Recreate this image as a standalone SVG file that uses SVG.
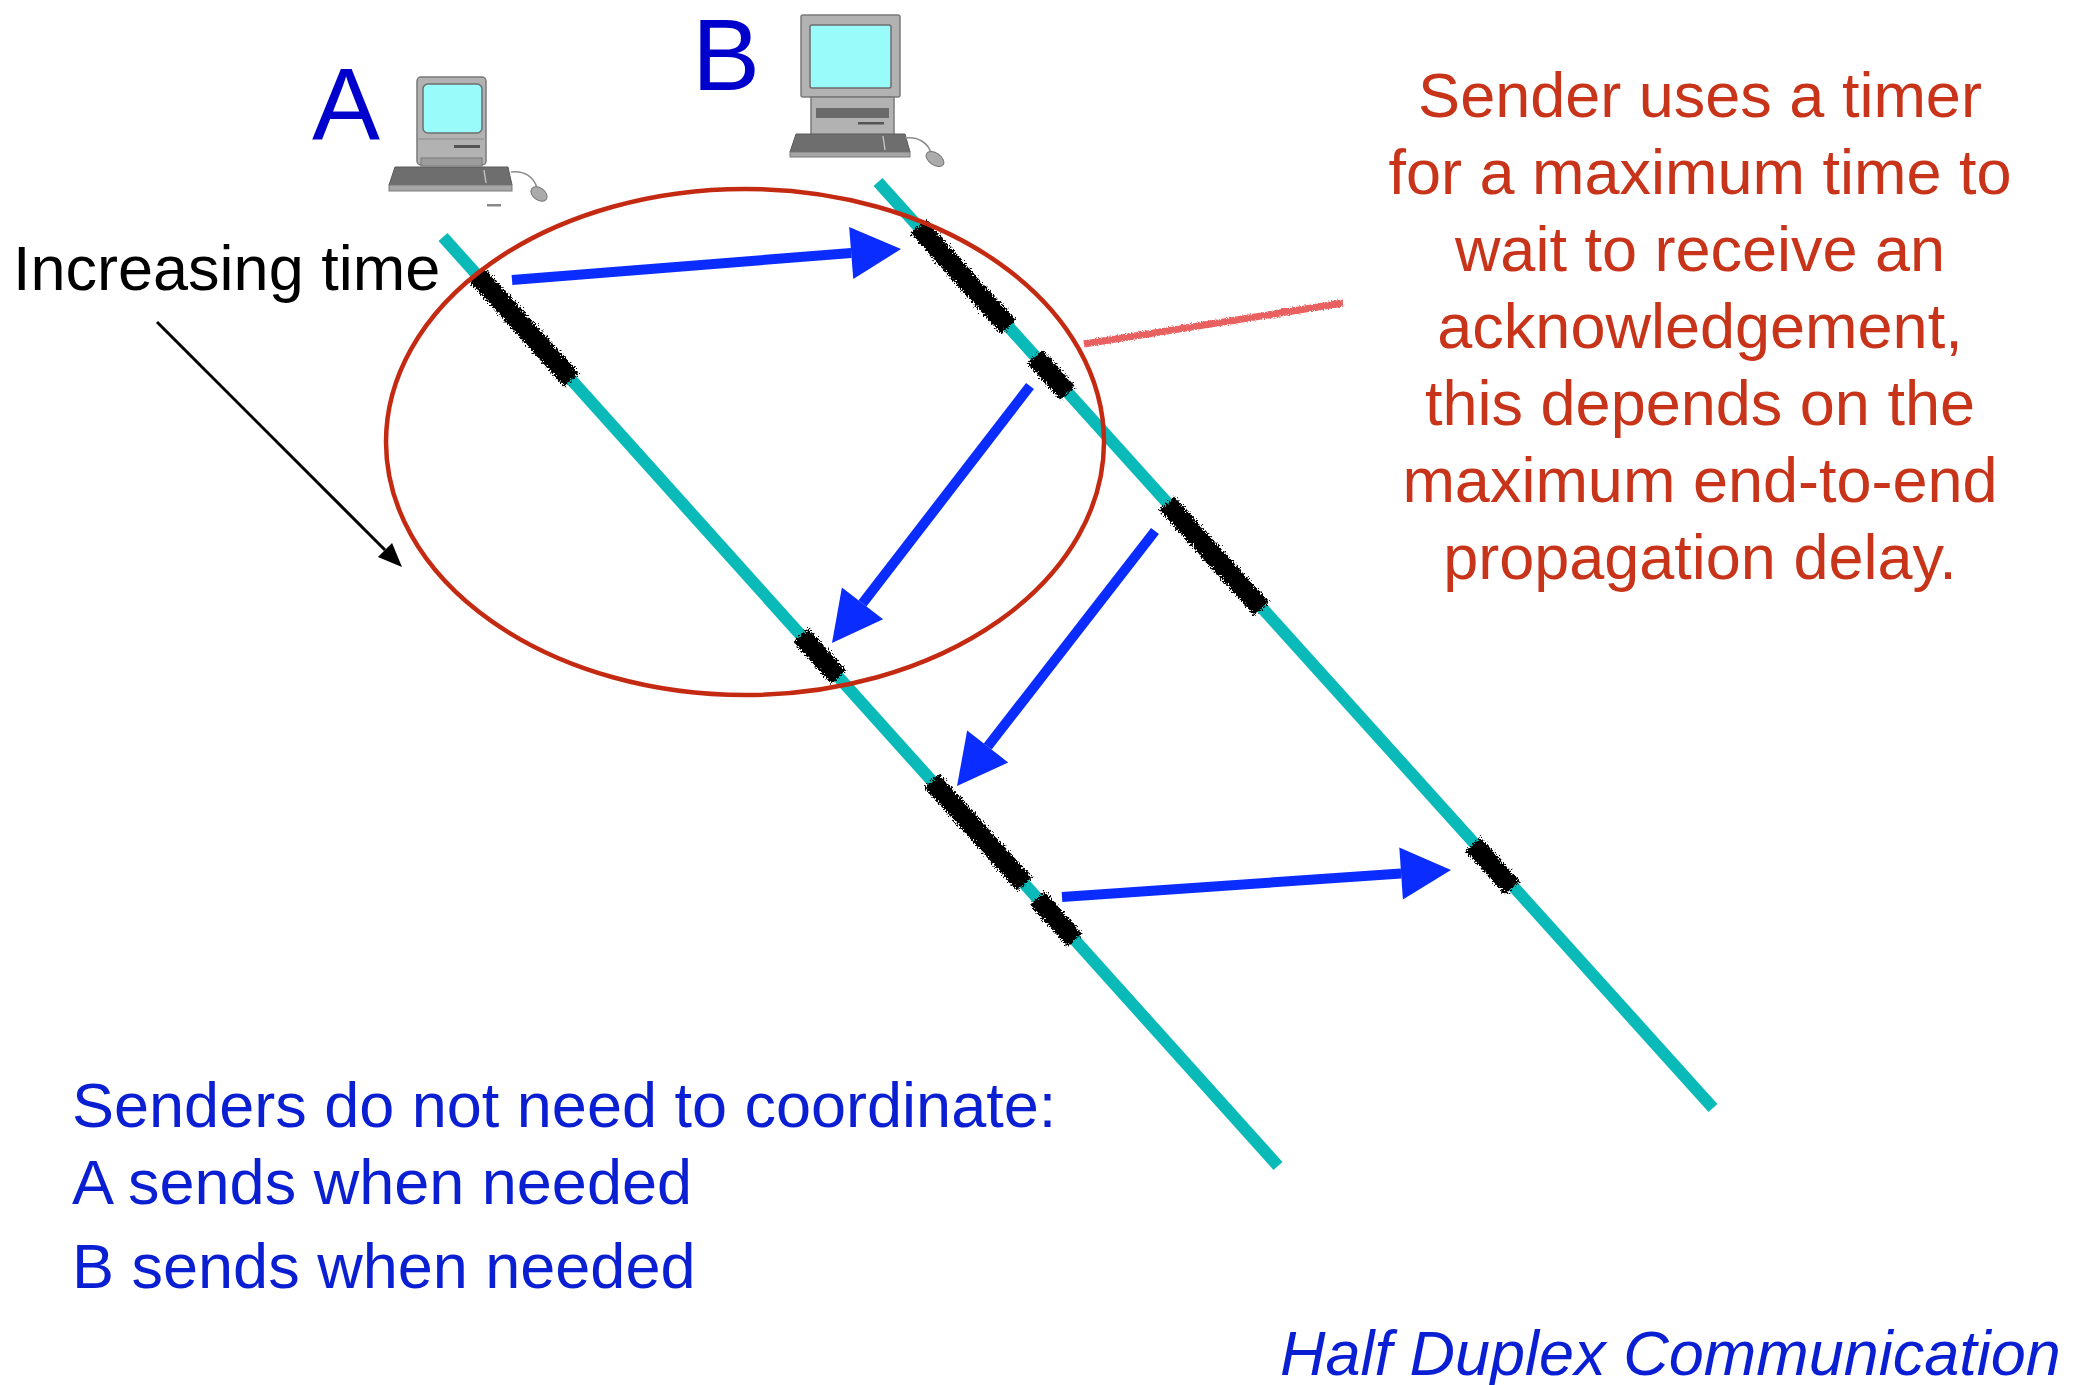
<svg xmlns="http://www.w3.org/2000/svg" width="2087" height="1385" viewBox="0 0 2087 1385">
  <style>
    .label { font-family: "Liberation Sans", Arial, Helvetica, sans-serif; }
    .host { font-size: 102px; fill: #0000CC; }
    .note { font-size: 63px; fill: #C8341A; text-anchor: middle; }
    .info { font-size: 63px; fill: #0A1ED2; }
    .timeline { stroke: #0ABAB8; stroke-width: 12; fill: none; }
    .busy { stroke: #000; stroke-width: 20; fill: none; stroke-linecap: butt; }
    .msg { stroke: #0A2CFF; stroke-width: 10; fill: none; marker-end: url(#blueHead); }
    .case { fill: #B2B2B2; stroke: #7A7A7A; stroke-width: 1.5; }
    .screen { fill: #99FCFA; stroke: #6E6E6E; stroke-width: 1.5; }
    .keys { fill: #6E6E6E; stroke: #5A5A5A; stroke-width: 1; }
    .keyrim { fill: #A6A6A6; stroke: #7A7A7A; stroke-width: 1; }
  </style>
  <defs>
    <marker id="blueHead" markerUnits="userSpaceOnUse" markerWidth="60" markerHeight="60" refX="0" refY="0" orient="auto" overflow="visible">
      <path d="M0,-26 L50,0 L0,26 Z" fill="#0A2CFF"/>
    </marker>
    <marker id="blackHead" markerUnits="userSpaceOnUse" markerWidth="30" markerHeight="30" refX="0" refY="0" orient="auto" overflow="visible">
      <path d="M0,-10 L24,0 L0,10 Z" fill="#000"/>
    </marker>
    <filter id="rough" x="-10%" y="-10%" width="120%" height="120%">
      <feTurbulence type="fractalNoise" baseFrequency="0.6" numOctaves="3" seed="4" result="n"/>
      <feDisplacementMap in="SourceGraphic" in2="n" scale="9" xChannelSelector="R" yChannelSelector="G"/>
    </filter>
    <filter id="scribble" x="-5%" y="-50%" width="110%" height="200%">
      <feTurbulence type="fractalNoise" baseFrequency="0.7" numOctaves="2" seed="9" result="n"/>
      <feDisplacementMap in="SourceGraphic" in2="n" scale="4" xChannelSelector="R" yChannelSelector="G"/>
    </filter>
  </defs>

  <rect width="2087" height="1385" fill="#FFFFFF"/>

  <!-- station A: label and computer -->
  <g id="node-A">
    <text class="label host" x="312" y="140">A</text>
    <rect class="case" x="417" y="77" width="69" height="88" rx="4"/>
    <rect class="screen" x="423" y="84" width="59" height="49" rx="5"/>
    <line x1="419" y1="139" x2="484" y2="139" stroke="#8A8A8A" stroke-width="1"/>
    <rect x="454" y="145" width="26" height="3" fill="#555"/>
    <rect x="421" y="158" width="61" height="8" fill="#9C9C9C" stroke="#7A7A7A" stroke-width="1"/>
    <polygon class="keys" points="395,167 508,167 512,185 389,185"/>
    <rect class="keyrim" x="389" y="185" width="123" height="6"/>
    <line x1="484" y1="170" x2="486" y2="183" stroke="#BDBDBD" stroke-width="1.5"/>
    <path d="M511,172 C524,170 534,177 537,188" fill="none" stroke="#8C8C8C" stroke-width="1.5"/>
    <ellipse cx="539" cy="194" rx="9" ry="6" transform="rotate(35 539 194)" fill="#ABABAB" stroke="#777" stroke-width="1"/>
    <rect x="487" y="204" width="14" height="2.5" fill="#888"/>
  </g>

  <!-- station B: label and computer -->
  <g id="node-B">
    <text class="label host" x="692" y="90">B</text>
    <rect class="case" x="801" y="15" width="99" height="82" rx="2"/>
    <rect class="screen" x="810" y="25" width="81" height="63" rx="2"/>
    <rect class="case" x="811" y="97" width="83" height="38"/>
    <rect x="816" y="108" width="73" height="10" fill="#6A6A6A"/>
    <rect x="858" y="122" width="26" height="2.5" fill="#555"/>
    <polygon class="keys" points="796,134 905,134 910,152 790,152"/>
    <rect class="keyrim" x="790" y="152" width="120" height="5"/>
    <line x1="883" y1="136" x2="885" y2="150" stroke="#BDBDBD" stroke-width="1.5"/>
    <path d="M905,138 C918,136 928,143 931,153" fill="none" stroke="#8C8C8C" stroke-width="1.5"/>
    <ellipse cx="935" cy="159" rx="10" ry="6" transform="rotate(35 935 159)" fill="#ABABAB" stroke="#777" stroke-width="1"/>
  </g>

  <!-- time axes of the two stations -->
  <g id="timelines">
    <line class="timeline" x1="443" y1="237" x2="1278" y2="1166"/>
    <line class="timeline" x1="878" y1="182" x2="1713" y2="1108"/>
  </g>

  <!-- busy periods on each axis -->
  <g id="busy-marks" filter="url(#rough)">
    <line class="busy" x1="476.4" y1="274.2" x2="571.4" y2="379.8"/>
    <line class="busy" x1="800.6" y1="634.9" x2="838.8" y2="677.3"/>
    <line class="busy" x1="931.7" y1="780.7" x2="1024.6" y2="884.1"/>
    <line class="busy" x1="1037.3" y1="898.2" x2="1074.7" y2="939.9"/>
    <line class="busy" x1="918.1" y1="226.6" x2="1008.4" y2="327.0"/>
    <line class="busy" x1="1035.1" y1="356.8" x2="1067.9" y2="393.2"/>
    <line class="busy" x1="1166.8" y1="503.3" x2="1261.7" y2="608.9"/>
    <line class="busy" x1="1473.0" y1="844.0" x2="1512.4" y2="887.9"/>
  </g>

  <!-- timer highlight and its callout stroke -->
  <g id="timer-highlight">
    <ellipse cx="745" cy="442" rx="359" ry="253" fill="none" stroke="#C42A12" stroke-width="4.5"/>
    <line x1="1084" y1="344" x2="1343" y2="303" stroke="#E8605E" stroke-width="7" filter="url(#scribble)"/>
  </g>

  <!-- frames exchanged between A and B -->
  <g id="connectors">
    <line class="msg" x1="512" y1="280" x2="851.2" y2="253.0"/>
    <line class="msg" x1="1030" y1="386" x2="862.5" y2="603.4"/>
    <line class="msg" x1="1155" y1="531" x2="987.7" y2="746.5"/>
    <line class="msg" x1="1062" y1="897" x2="1401.1" y2="873.5"/>
    <line x1="157" y1="322" x2="385" y2="550" stroke="#000" stroke-width="3" marker-end="url(#blackHead)"/>
  </g>

  <g id="time-label">
    <text class="label" x="13" y="290" font-size="63" fill="#000">Increasing time</text>
  </g>

  <g id="timer-note" class="label note">
    <text x="1700" y="117">Sender uses a timer</text>
    <text x="1700" y="194">for a maximum time to</text>
    <text x="1700" y="271">wait to receive an</text>
    <text x="1700" y="348">acknowledgement,</text>
    <text x="1700" y="425">this depends on the</text>
    <text x="1700" y="502">maximum end-to-end</text>
    <text x="1700" y="579">propagation delay.</text>
  </g>

  <g id="coordination-note" class="label info">
    <text x="72" y="1127">Senders do not need to coordinate:</text>
    <text x="72" y="1204">A sends when needed</text>
    <text x="72" y="1288">B sends when needed</text>
  </g>

  <g id="title">
    <text class="label info" x="1280" y="1375" font-style="italic">Half Duplex Communication</text>
  </g>
</svg>
